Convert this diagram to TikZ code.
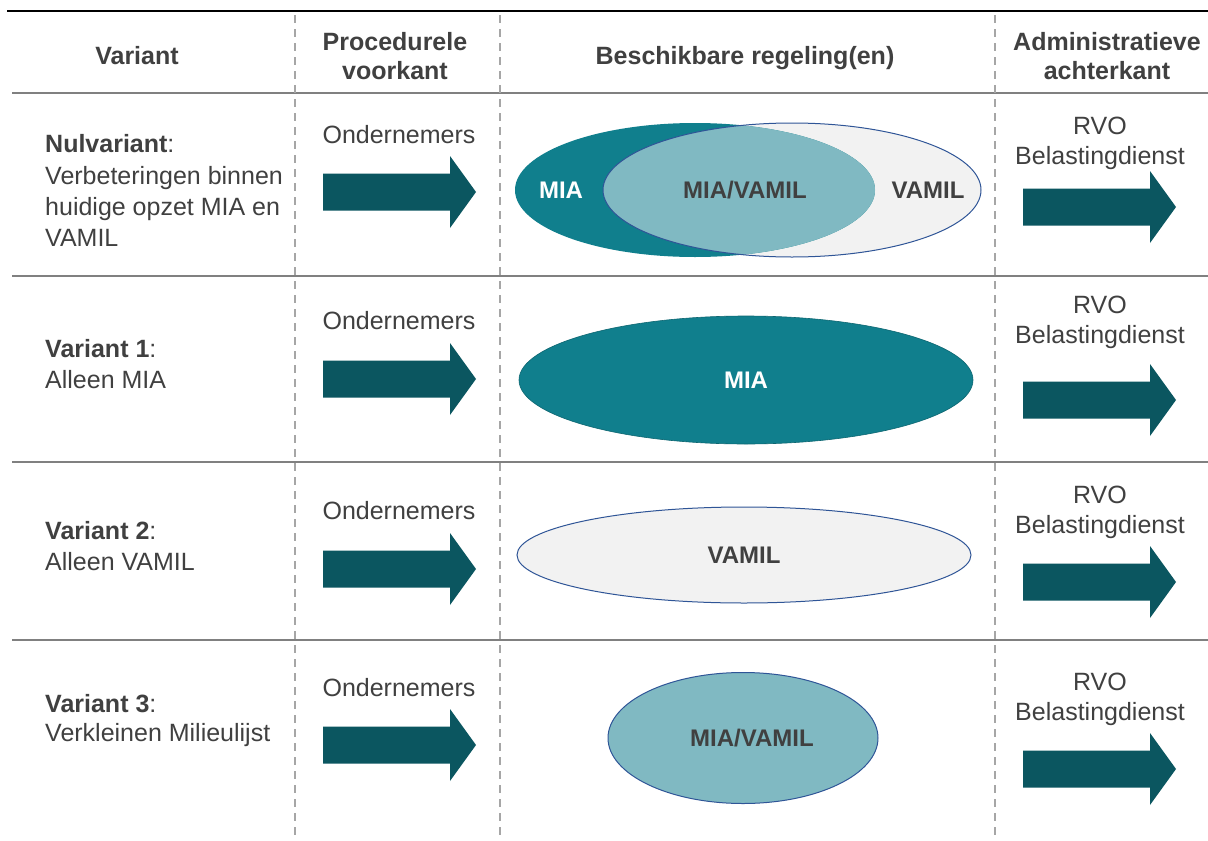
\documentclass[tikz,border=0pt]{standalone}
\usepackage{fontspec}
\setmainfont{Liberation Sans}
\usetikzlibrary{shapes.geometric}
\definecolor{darkteal}{HTML}{107F8D}
\definecolor{lightteal}{HTML}{80B9C2}
\definecolor{lightgray}{HTML}{F2F2F2}
\definecolor{outlineblue}{HTML}{2F5597}
\definecolor{arrowcol}{HTML}{0B5660}
\definecolor{textgray}{HTML}{404040}
\definecolor{rulegray}{HTML}{808080}
\definecolor{dashgray}{HTML}{A6A6A6}
\tikzset{
  txt/.style={font=\fontsize{25}{30}\selectfont, text=textgray, inner sep=0pt, anchor=base},
  txtl/.style={txt, anchor=base west},
  hdr/.style={txt, font=\fontsize{25}{30}\selectfont\bfseries},
  elab/.style={inner sep=0pt, anchor=base, font=\fontsize{24}{28}\selectfont\bfseries},
  rowrule/.style={draw=rulegray, line width=2pt},
  colrule/.style={draw=dashgray, line width=1.8pt, dash pattern=on 8pt off 6pt},
  ell/.style={ellipse, inner sep=0pt},
  pics/bigarrow/.style={code={
    \fill[arrowcol] (0,-18.5) -- (127,-18.5) -- (127,-36) -- (153,0) -- (127,36) -- (127,18.5) -- (0,18.5) -- cycle;
  }}
}
\begin{document}
\begin{tikzpicture}[x=1pt,y=-1pt]
\useasboundingbox[fill=white] (0,0) rectangle (1208,841);

% rules
\draw[line width=2.5pt, black] (7,11) coordinate (tl) -- (1208,11) coordinate (tr);
\foreach \y/\n in {93/a,276/b,462/c,640/d}{
  \draw[rowrule] (12,\y) coordinate (rl\n) -- (1208,\y) coordinate (rr\n);
}
\foreach \x/\n in {295/a,500/b,995/c}{
  \draw[colrule] (\x,15) coordinate (ct\n) -- (\x,835) coordinate (cb\n);
}

% header
\node[hdr] (h1) at (137,64) {Variant};
\node[hdr] (h2a) at (395,50) {Procedurele};
\node[hdr] (h2b) at (395,79) {voorkant};
\node[hdr] (h3) at (745,64) {Beschikbare regeling(en)};
\node[hdr] (h4a) at (1107,50) {Administratieve};
\node[hdr] (h4b) at (1107,79) {achterkant};

% left column
\node[txtl] (v0a) at (45,152) {\textbf{Nulvariant}:};
\node[txtl] (v0b) at (45,184) {Verbeteringen binnen};
\node[txtl] (v0c) at (45,215) {huidige opzet MIA en};
\node[txtl] (v0d) at (45,246) {VAMIL};
\node[txtl] (v1a) at (45,357) {\textbf{Variant 1}:};
\node[txtl] (v1b) at (45,388) {Alleen MIA};
\node[txtl] (v2a) at (45,539) {\textbf{Variant 2}:};
\node[txtl] (v2b) at (45,570) {Alleen VAMIL};
\node[txtl] (v3a) at (45,712) {\textbf{Variant 3}:};
\node[txtl] (v3b) at (45,741) {Verkleinen Milieulijst};

% procedural front
\foreach \y/\ay/\n in {143/192/1,329/379/2,519/569/3,696/745/4}{
  \node[txt] (ond\n) at (399,\y) {Ondernemers};
  \pic at (323,\ay) {bigarrow};
}

% administrative back
\foreach \y/\ay/\n in {134/207/1,313/400/2,503/582/3,690/769/4}{
  \node[txt] (rvo\n) at (1100,\y) {RVO};
  \node[txt] (bel\n) at (1100,\y+30) {Belastingdienst};
  \pic at (1023,\ay) {bigarrow};
}

% row 1 Venn
\node[ell, fill=lightgray, minimum width=378pt, minimum height=134pt] (vamil1) at (792,190) {};
\node[ell, fill=darkteal, minimum width=360pt, minimum height=134pt] (mia1) at (695,190) {};
\begin{scope}
  \clip (695,190) ellipse [x radius=180pt, y radius=67pt];
  \fill[lightteal] (792,190) ellipse [x radius=189pt, y radius=67pt];
\end{scope}
\draw[outlineblue, line width=1pt] (792,190) ellipse [x radius=189pt, y radius=67pt];
\node[elab, text=white] (l1a) at (561,198.5) {MIA};
\node[elab, text=textgray] (l1b) at (745,198.5) {MIA/VAMIL};
\node[elab, text=textgray] (l1c) at (928,198.5) {VAMIL};

% row 2
\node[ell, fill=darkteal, draw=darkteal!80!black, line width=0.6pt, minimum width=454pt, minimum height=128pt] (mia2) at (746,380) {};
\node[elab, text=white] (l2) at (746,388.5) {MIA};

% row 3
\node[ell, fill=lightgray, draw=outlineblue, line width=1pt, minimum width=454pt, minimum height=96pt] (vamil3) at (744,555) {};
\node[elab, text=textgray] (l3) at (744,563.5) {VAMIL};

% row 4
\node[ell, fill=lightteal, draw=outlineblue, line width=1pt, minimum width=270pt, minimum height=131pt] (mv4) at (743,738) {};
\node[elab, text=textgray] (l4) at (752,746.5) {MIA/VAMIL};

\end{tikzpicture}
\end{document}
